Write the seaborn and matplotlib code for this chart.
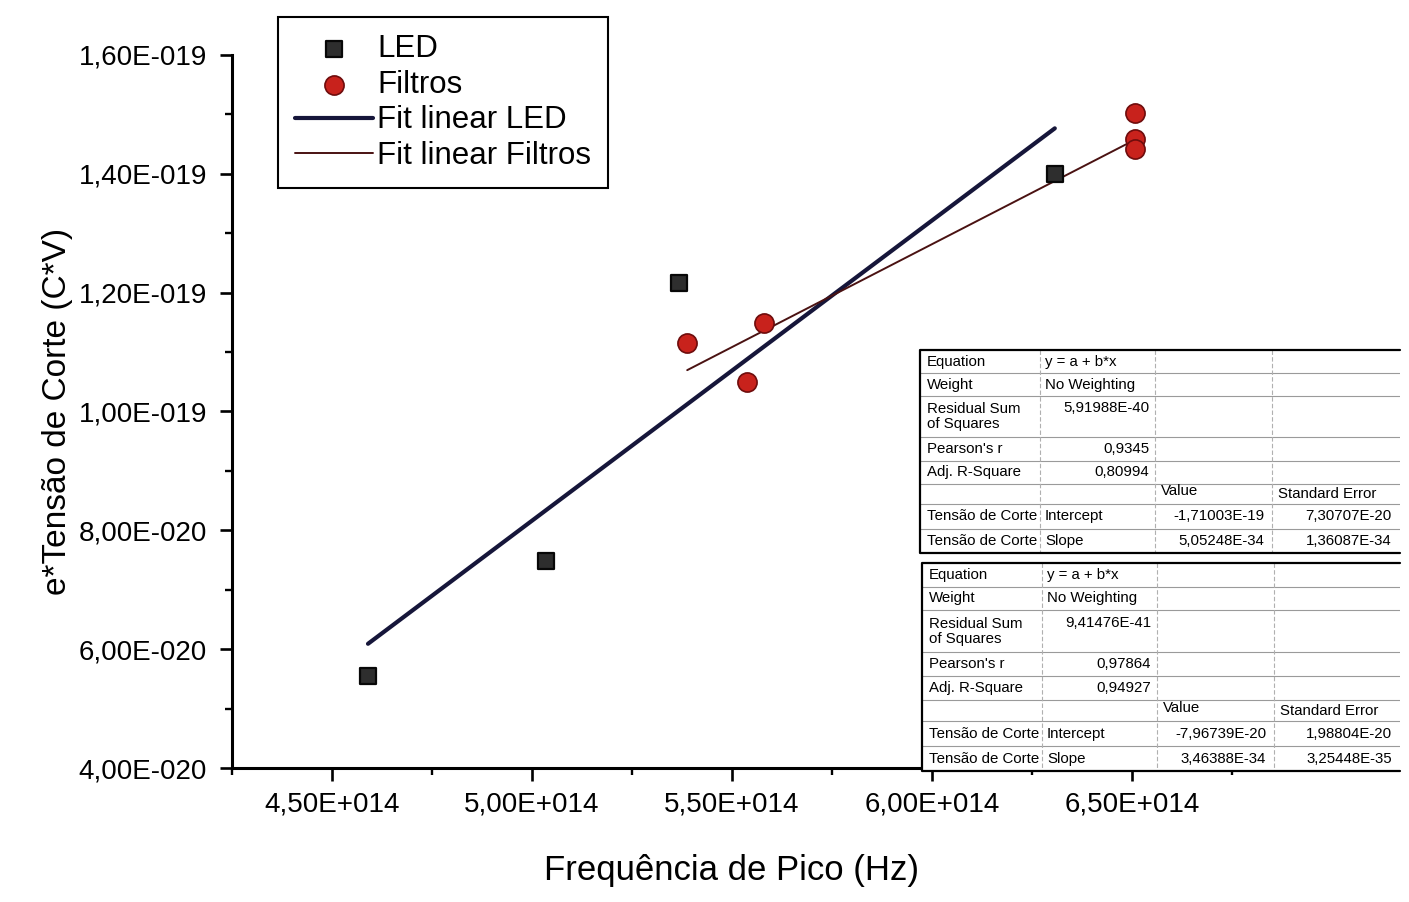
import numpy as np
import pandas as pd
import matplotlib
matplotlib.use("Agg")
import matplotlib.pyplot as plt
from matplotlib.ticker import MultipleLocator
import seaborn as sns

# ---------------- data ----------------
led_x = [4.59e14, 5.035e14, 5.368e14, 6.307e14]
led_y = [5.55e-20, 7.48e-20, 1.216e-19, 1.400e-19]

filtros_x = [5.388e14, 5.538e14, 5.581e14, 6.508e14, 6.508e14, 6.508e14]
filtros_y = [1.115e-19, 1.050e-19, 1.149e-19, 1.503e-19, 1.458e-19, 1.441e-19]

# linear fit coefficients (from the tables)
led_a, led_b = -1.71003e-19, 5.05248e-34
fil_a, fil_b = -7.96739e-20, 3.46388e-34

x_ticks = [4.5e14, 5.0e14, 5.5e14, 6.0e14, 6.5e14]
x_ticklabels = ["4,50E+014", "5,00E+014", "5,50E+014", "6,00E+014", "6,50E+014"]
y_ticks = [4e-20, 6e-20, 8e-20, 1.0e-19, 1.2e-19, 1.4e-19, 1.6e-19]
y_ticklabels = ["4,00E-020", "6,00E-020", "8,00E-020", "1,00E-019",
                "1,20E-019", "1,40E-019", "1,60E-019"]

table1_rows = [
    ["Equation", "y = a + b*x", "", ""],
    ["Weight", "No Weighting", "", ""],
    ["Residual Sum\nof Squares", "5,91988E-40", "", ""],
    ["Pearson's r", "0,9345", "", ""],
    ["Adj. R-Square", "0,80994", "", ""],
    ["", "", "Value", "Standard Error"],
    ["Tensão de Corte", "Intercept", "-1,71003E-19", "7,30707E-20"],
    ["Tensão de Corte", "Slope", "5,05248E-34", "1,36087E-34"],
]
table2_rows = [
    ["Equation", "y = a + b*x", "", ""],
    ["Weight", "No Weighting", "", ""],
    ["Residual Sum\nof Squares", "9,41476E-41", "", ""],
    ["Pearson's r", "0,97864", "", ""],
    ["Adj. R-Square", "0,94927", "", ""],
    ["", "", "Value", "Standard Error"],
    ["Tensão de Corte", "Intercept", "-7,96739E-20", "1,98804E-20"],
    ["Tensão de Corte", "Slope", "3,46388E-34", "3,25448E-35"],
]

# ---------------- style ----------------
sns.set_theme(style="ticks")
plt.rcParams["font.family"] = ["Liberation Sans", "DejaVu Sans"]
plt.rcParams["text.color"] = "black"
plt.rcParams["axes.labelcolor"] = "black"

W, H = 1409, 902
fig = plt.figure(figsize=(W / 100, H / 100), dpi=100)
fig.patch.set_facecolor("white")

ax = fig.add_axes([232 / W, 1 - 768 / H, 1000 / W, (768 - 55) / H])
ax.set_facecolor("white")

led_df = pd.DataFrame({"x": led_x, "y": led_y})
fil_df = pd.DataFrame({"x": filtros_x, "y": filtros_y})

led_fx = np.array([min(led_x), max(led_x)])
fil_fx = np.array([min(filtros_x), max(filtros_x)])
led_fit = pd.DataFrame({"x": led_fx, "y": led_a + led_b * led_fx})
fil_fit = pd.DataFrame({"x": fil_fx, "y": fil_a + fil_b * fil_fx})

sns.lineplot(data=led_fit, x="x", y="y", ax=ax, color="#16163a", lw=3.0,
             label="Fit linear LED", zorder=2)
sns.lineplot(data=fil_fit, x="x", y="y", ax=ax, color="#4a1212", lw=1.4,
             label="Fit linear Filtros", zorder=2)
sns.scatterplot(data=led_df, x="x", y="y", ax=ax, marker="s", s=120,
                color="#2e2e2e", edgecolor="#080808", linewidth=1.6,
                label="LED", zorder=3)
sns.scatterplot(data=fil_df, x="x", y="y", ax=ax, marker="o", s=190,
                color="#c8221c", edgecolor="#6e0c0c", linewidth=1.2,
                label="Filtros", zorder=3)

ax.set_xlim(4.25e14, 6.75e14)
ax.set_ylim(4e-20, 1.6e-19)
ax.set_xticks(x_ticks, x_ticklabels)
ax.set_yticks(y_ticks, y_ticklabels)
ax.xaxis.set_minor_locator(MultipleLocator(0.25e14))
ax.yaxis.set_minor_locator(MultipleLocator(1e-20))
ax.tick_params(axis="both", which="major", direction="out", length=9,
               width=1.9, labelsize=20, colors="black", pad=8)
ax.tick_params(axis="y", which="major", pad=9)
ax.tick_params(axis="both", which="minor", direction="out", length=5,
               width=1.7, colors="black")
sns.despine(ax=ax)
for s in ["left", "bottom"]:
    ax.spines[s].set_linewidth(2.2)
    ax.spines[s].set_color("black")

ax.set_xlabel("Frequência de Pico (Hz)", fontsize=25, labelpad=26, color="black")
ax.set_ylabel("e*Tensão de Corte (C*V)", fontsize=24, labelpad=4, color="black")

# legend
handles, labels = ax.get_legend_handles_labels()
order = ["LED", "Filtros", "Fit linear LED", "Fit linear Filtros"]
hmap = dict(zip(labels, handles))
leg = ax.legend([hmap[k] for k in order], order, loc="upper left",
                bbox_to_anchor=(278 / W, 1 - 17 / H), bbox_transform=fig.transFigure,
                borderaxespad=0, fontsize=22.5, frameon=True, fancybox=False,
                edgecolor="black", framealpha=1, labelspacing=0.18,
                handlelength=2.5, handletextpad=0.12, borderpad=0.55)
leg.get_frame().set_linewidth(1.5)
for t in leg.get_texts():
    t.set_color("black")


# ---------------- tables ----------------
def draw_table(rows, left, top, bottom, right=1400):
    tax = fig.add_axes([left / W, 1 - bottom / H, (right - left) / W, (bottom - top) / H])
    width = right - left
    tax.set_xlim(0, width)
    heights = [23, 22, 41, 23, 23, 20, 24, 24]
    total = sum(heights)
    tax.set_ylim(total, 0)
    tax.axis("off")
    tax.add_patch(plt.Rectangle((0, 0), width, total, facecolor="white",
                                edgecolor="none", zorder=0))
    cols = [0, 120, 235, 352, width]
    y = 0
    bounds = [0]
    for h in heights:
        y += h
        bounds.append(y)
    for yb in bounds[1:-1]:
        tax.plot([0, width], [yb, yb], color="#9a9a9a", lw=0.8, zorder=1)
    for xb in cols[1:-1]:
        tax.plot([xb, xb], [0, total], color="#b0b0b0", lw=0.8, ls=(0, (4, 2)), zorder=1)
    tax.plot([width, 0, 0, width], [0, 0, total, total], color="black", lw=1.6,
             zorder=2, clip_on=False)
    fs = 10.8
    for i, row in enumerate(rows):
        yc = (bounds[i] + bounds[i + 1]) / 2
        for j, txt in enumerate(row):
            if not txt:
                continue
            is_num = txt[0].isdigit() or txt[0] == "-"
            if j == 0:
                tax.text(7, yc, txt, fontsize=fs, ha="left", va="center",
                         linespacing=1.1)
            elif j == 1:
                if is_num:
                    tax.text(cols[2] - 6, yc - (8 if i == 2 else 0), txt, fontsize=fs,
                             ha="right", va="center")
                else:
                    tax.text(cols[1] + 5, yc, txt, fontsize=fs, ha="left", va="center")
            elif j == 2:
                if is_num:
                    tax.text(cols[3] - 8, yc, txt, fontsize=fs, ha="right", va="center")
                else:
                    tax.text(cols[2] + 6, yc - 3, txt, fontsize=fs, ha="left", va="center")
            else:
                if is_num:
                    tax.text(width - 8, yc, txt, fontsize=fs, ha="right", va="center")
                else:
                    tax.text(cols[3] + 6, yc, txt, fontsize=fs, ha="left", va="center")


draw_table(table1_rows, 920, 350, 553)
draw_table(table2_rows, 922, 563, 771)

fig.savefig("out.png", dpi=100, facecolor="white")
